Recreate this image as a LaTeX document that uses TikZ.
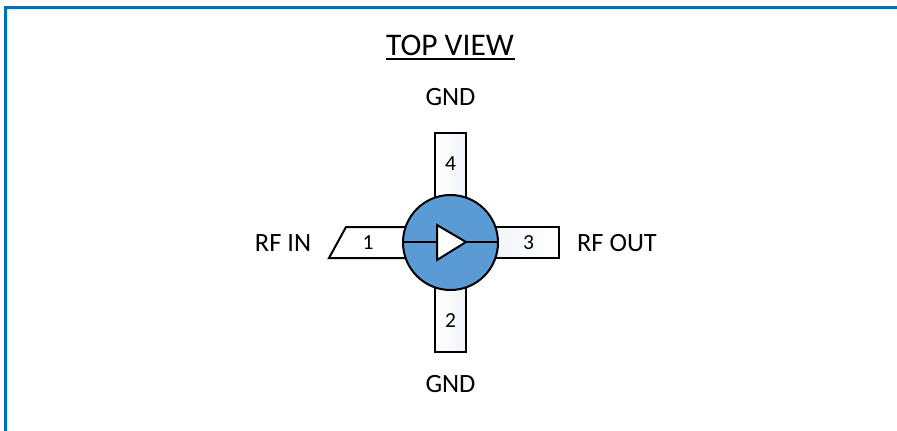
\documentclass[tikz,border=0pt]{standalone}
\usepackage{fontspec}
\setmainfont{Carlito}
\definecolor{frameblue}{HTML}{0070B8}
\definecolor{chipblue}{HTML}{5B9BD5}
\definecolor{pintint}{HTML}{F0F3F9}
\tikzset{
  x=1pt,y=-1pt,
  outline/.style={draw=black,line width=2pt,line join=miter},
  pinshade/.style={left color=white,right color=pintint,draw=none},
  pinnum/.style={font=\fontsize{21.5}{21.5}\selectfont,inner sep=0pt},
  lbl/.style={font=\fontsize{26.4}{26.4}\selectfont,inner sep=0pt},
}
\begin{document}
\begin{tikzpicture}
\useasboundingbox (0,0) rectangle (897,431);
\fill[white] (0,0) rectangle (897,431);
\fill[frameblue] (4,431) -- (4,6) -- (897,6) -- (897,9) -- (7,9) -- (7,431) -- cycle;
% pins
\shade[pinshade] (435,210) rectangle (466,133);
\draw[outline] (435,210) -- (435,133) -- (466,133) -- (466,210);
\shade[pinshade] (435,275) rectangle (466,352);
\draw[outline] (435,275) -- (435,352) -- (466,352) -- (466,275);
\shade[left color=pintint,right color=white,draw=none] (480,227) rectangle (559,258);
\draw[outline] (480,227) -- (559,227) -- (559,258) -- (480,258);
\draw[outline,fill=white] (420,227) -- (346,227) -- (329,258) -- (420,258);
% body
\node[circle,outline,fill=chipblue,minimum size=95pt,inner sep=0pt] (body) at (450.5,242.5) {};
\coordinate (bw) at (403,242);
\coordinate (be) at (498,242);
\coordinate (ampin) at (437,242);
\coordinate (ampout) at (466,242);
\draw[outline] (bw) -- (ampin);
\draw[outline] (ampout) -- (be);
\draw[outline,fill=white] (437,225) -- (ampout) -- (437,260) -- cycle;
% numbers
\node[pinnum] (p4) at (450.5,164) {4};
\node[pinnum] (p2) at (450.5,321) {2};
\node[pinnum] (p1) at (368,243) {1};
\node[pinnum] (p3) at (528.5,243) {3};
% labels
\node[font=\fontsize{31.5}{31.5}\selectfont,inner sep=0pt] (title) at (450,45) {TOP VIEW};
\draw[black,line width=1.6pt] (386,59) -- (514.5,59);
\node[lbl] (gt) at (450.5,97) {GND};
\node[lbl] (gb) at (450.5,384.5) {GND};
\node[lbl] (rfin) at (283,243) {RF IN};
\node[lbl] (rfout) at (617,243) {RF OUT};
\end{tikzpicture}
\end{document}
